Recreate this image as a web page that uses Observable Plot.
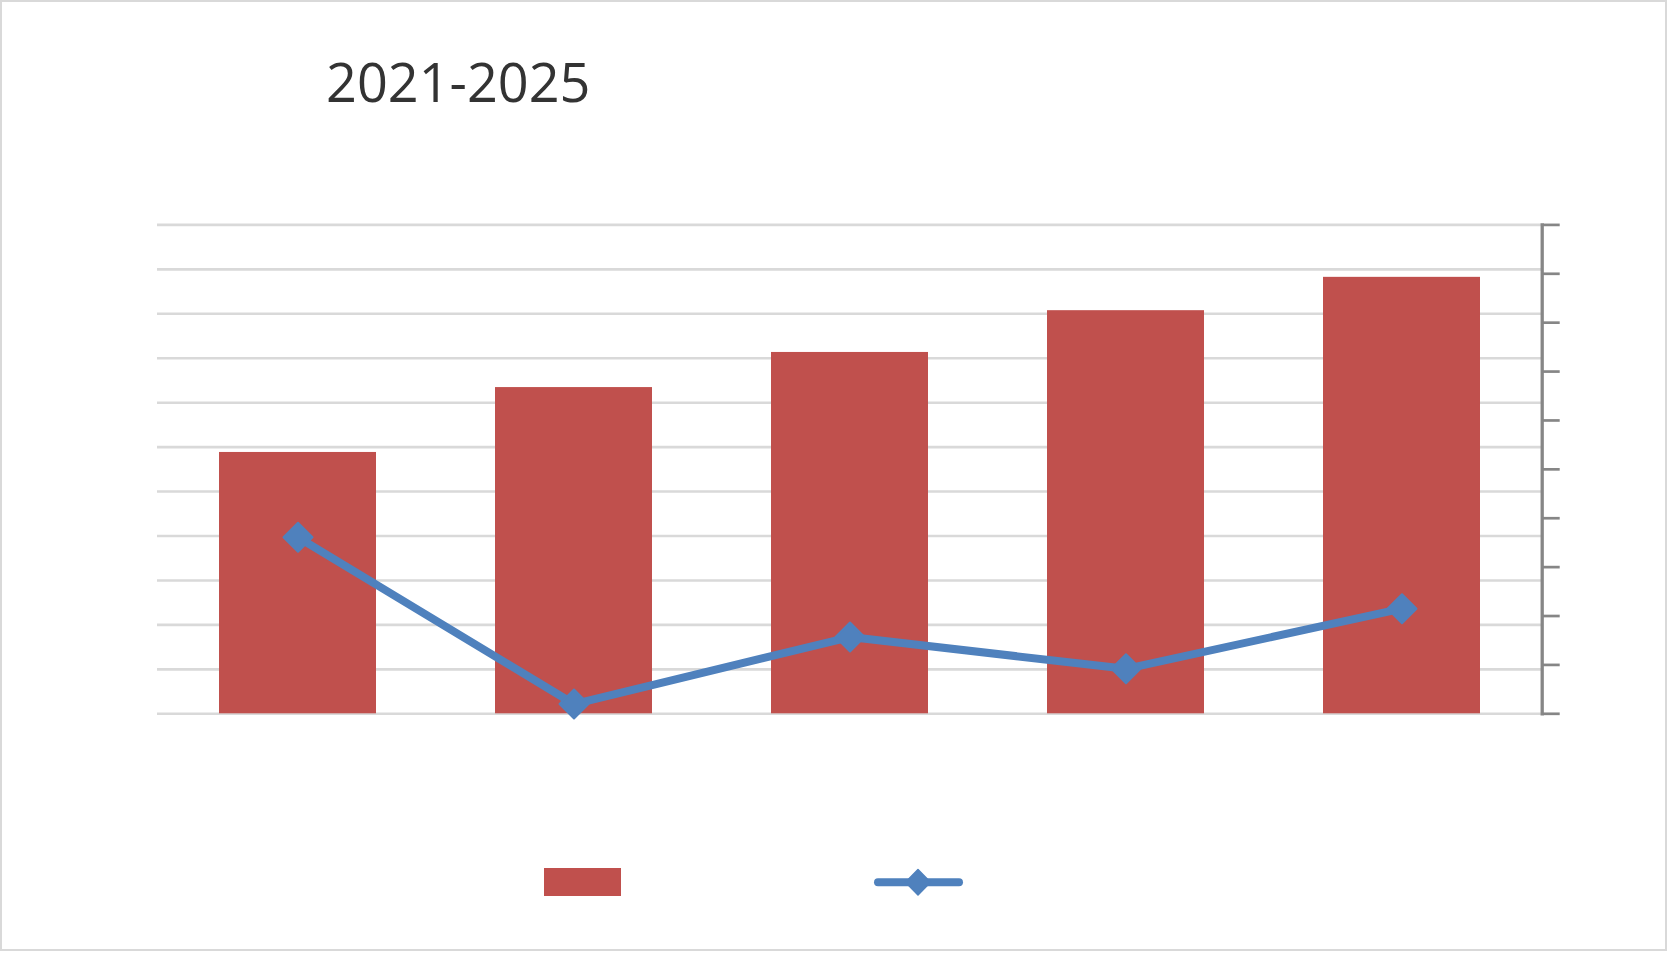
<!DOCTYPE html>
<html>
<head>
<meta charset="utf-8">
<script src="https://cdn.jsdelivr.net/npm/d3@7"></script>
<script src="https://cdn.jsdelivr.net/npm/@observablehq/plot@0.6"></script>
<style>
  html, body { margin: 0; padding: 0; background: #fff; }
  #wrap { position: relative; width: 1674px; height: 954px; background: #fff; overflow: hidden; }
  #border { position: absolute; left: 0; top: 0; width: 1663px; height: 947px; border: 2px solid #d9d9d9; }
  #chart { position: absolute; left: 0; top: 0; }
  #overlay { position: absolute; left: 0; top: 0; }
</style>
</head>
<body>
<div id="wrap">
  <div id="border"></div>
  <div id="chart"></div>
  <svg id="overlay" width="1674" height="954"></svg>
</div>
<script>
// ---- data ----
const titleText = "2021-2025";
const years = ["2021", "2022", "2023", "2024", "2025"];
const barValues = [588, 734, 813, 907, 982];      // left axis (0..1100)
const lineValues = [3.61, 0.20, 1.57, 0.92, 2.15]; // right axis (0..10)
const leftTicks = [0, 100, 200, 300, 400, 500, 600, 700, 800, 900, 1000, 1100];
const rightTicks = [0, 1, 2, 3, 4, 5, 6, 7, 8, 9, 10];

const barColor = "#C0504D";
const lineColor = "#4F81BD";

const rows = years.map((year, i) => ({ year, value: barValues[i], rate: lineValues[i] }));

// right axis mapped onto the left scale
const yR = d3.scaleLinear([0, 10], [0, 1100]);

const diamond = {
  draw(ctx, size) {
    const h = Math.sqrt(size / Math.PI);
    ctx.moveTo(0, -h);
    ctx.lineTo(h, 0);
    ctx.lineTo(0, h);
    ctx.lineTo(-h, 0);
    ctx.closePath();
  }
};

const chart = Plot.plot({
  width: 1674,
  height: 954,
  marginLeft: 157,
  marginRight: 132.3,
  marginTop: 224.4,
  marginBottom: 240.7,
  style: { background: "transparent", overflow: "visible" },
  x: { domain: years, paddingInner: 0.4294, paddingOuter: 0.2147, axis: null, label: null },
  y: { domain: [0, 1100], axis: null, label: null },
  marks: [
    Plot.gridY(leftTicks, { stroke: "#d9d9d9", strokeOpacity: 1, strokeWidth: 2.6 }),
    Plot.barY(rows, { x: "year", y: "value", fill: barColor }),
    Plot.axisY(rightTicks.map(t => yR(t)), {
      anchor: "right", tickSize: 17, tickFormat: () => "", label: null,
      stroke: "#868686", strokeWidth: 2.7, strokeOpacity: 1
    }),
    Plot.frame({ anchor: "right", stroke: "#868686", strokeWidth: 3.3, strokeOpacity: 1 }),
    Plot.line(rows, { x: "year", y: d => yR(d.rate), stroke: lineColor, strokeWidth: 8, strokeLinejoin: "round" }),
    Plot.dot(rows, { x: "year", y: d => yR(d.rate), symbol: diamond, r: 14.5, fill: lineColor, stroke: lineColor, strokeWidth: 2, strokeLinejoin: "round" })
  ]
});
document.getElementById("chart").appendChild(chart);

// ---- title and legend ----
const ov = d3.select("#overlay");
ov.append("text")
  .attr("x", 326).attr("y", 101.7)
  .attr("font-family", "'Open Sans', sans-serif")
  .attr("font-size", 54)
  .attr("fill", "#333333")
  .text(titleText);

const lg = ov.append("g");
lg.append("rect").attr("x", 544).attr("y", 868).attr("width", 77).attr("height", 28).attr("fill", barColor);
lg.append("line").attr("x1", 878).attr("x2", 959).attr("y1", 882.3).attr("y2", 882.3)
  .attr("stroke", lineColor).attr("stroke-width", 8).attr("stroke-linecap", "round");
lg.append("path").attr("d", "M918,869.5L930.5,882.3L918,895L905.5,882.3Z")
  .attr("fill", lineColor).attr("stroke", lineColor).attr("stroke-width", 1.5).attr("stroke-linejoin", "round");
</script>
</body>
</html>
